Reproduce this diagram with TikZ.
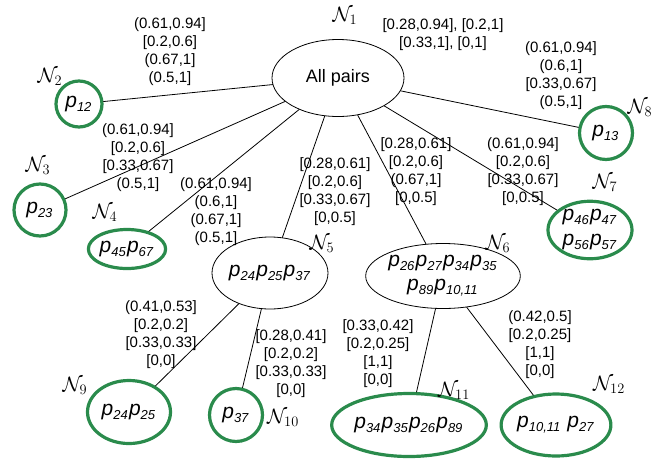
\documentclass[tikz,border=0pt]{standalone}
\usepackage{fontspec}
\setmainfont{Liberation Sans}
\usetikzlibrary{shapes.geometric}
\definecolor{treeGreen}{HTML}{2A8B4C}
\DeclareMathSizes{20}{20}{14}{10}
\newcommand{\pp}[1]{\textit{p}\raisebox{-4pt}{\fontsize{13}{13}\selectfont\itshape #1}\kern1.2pt\relax}

\begin{document}
\begin{tikzpicture}[x=1pt,y=-1pt,line cap=round,line join=round]
\useasboundingbox (0,0) rectangle (667,464);
\tikzset{inner/.style={draw=black,line width=0.8pt,ellipse,inner sep=0pt,align=center,font=\fontsize{21}{24}\selectfont},
  leaf/.style={draw=treeGreen,line width=3.2pt,ellipse,inner sep=0pt,align=center,font=\fontsize{21}{25}\selectfont},
  ivl/.style={font=\fontsize{15}{18}\selectfont,align=center,inner sep=0pt},
  nlab/.style={font=\fontsize{20}{20}\selectfont,inner sep=0pt},
  edge/.style={draw=black,line width=0.8pt}}
% nodes of the tree
\node[inner,minimum width=132pt,minimum height=77pt,font=\fontsize{18}{18}\selectfont] (n1) at (338,78) {All pairs};
\node[leaf,minimum width=46pt,minimum height=46pt] (n2) at (79,104) {\pp{12}};
\node[leaf,minimum width=52pt,minimum height=52pt] (n3) at (40,210) {\pp{23}};
\node[leaf,minimum width=76pt,minimum height=39pt] (n4) at (127,249) {\pp{45}\pp{67}};
\node[inner,minimum width=110pt,minimum height=72pt] (n5) at (270,273) {\pp{24}\pp{25}\pp{37}};
\node[inner,minimum width=137pt,minimum height=65pt] (n6) at (443,276) {\pp{26}\pp{27}\pp{34}\pp{35}\\\pp{89}\pp{10,11}};
\node[leaf,minimum width=84pt,minimum height=55pt] (n7) at (590,230) {\pp{46}\pp{47}\\\pp{56}\pp{57}};
\node[leaf,minimum width=53pt,minimum height=53pt] (n8) at (606,133) {\pp{13}};
\node[leaf,minimum width=83pt,minimum height=63pt] (n9) at (129,412) {\pp{24}\pp{25}};
\node[leaf,minimum width=53pt,minimum height=53pt] (n10) at (236,415) {\pp{37}};
\node[leaf,minimum width=133pt,minimum height=63pt] (n11) at (409,425) {\pp{34}\pp{35}\pp{26}\pp{89}};
\node[leaf,minimum width=84pt,minimum height=62pt] (n12) at (556,425) {\pp{10,11} \pp{27}};
% node names
\node[nlab] (l1) at (345,16) {$\mathcal{N}_1$};
\node[nlab] (l2) at (50,77) {$\mathcal{N}_2$};
\node[nlab] (l3) at (38,166) {$\mathcal{N}_3$};
\node[nlab] (l4) at (105,213) {$\mathcal{N}_4$};
\node[nlab] (l5) at (322,244) {$\mathcal{N}_5$};
\node[nlab] (l6) at (498,244) {$\mathcal{N}_6$};
\node[nlab] (l7) at (605,183) {$\mathcal{N}_7$};
\node[nlab] (l8) at (640,108) {$\mathcal{N}_8$};
\node[nlab] (l9) at (75,386) {$\mathcal{N}_9$};
\node[nlab] (l10) at (283,418) {$\mathcal{N}_{10}$};
\node[nlab] (l11) at (454,391) {$\mathcal{N}_{11}$};
\node[nlab] (l12) at (609,385) {$\mathcal{N}_{12}$};
% connectors
\foreach \a/\b in {n1/n2,n1/n3,n1/n4,n1/n5,n1/n6,n1/n7,n1/n8,n5/n9,n5/n10,n6/n11,n6/n12}
  \draw[edge] (\a) -- (\b);
% intervals
\node[ivl] (i1) at (443,35) {[0.28,0.94], [0.2,1]\\{}[0.33,1], [0,1]};
\node[ivl] (i2) at (170,52) {(0.61,0.94]\\{}[0.2,0.6]\\(0.67,1]\\(0.5,1]};
\node[ivl] (i3) at (138,158) {(0.61,0.94]\\{}[0.2,0.6]\\{}[0.33,0.67]\\(0.5,1]};
\node[ivl] (i4) at (216,212) {(0.61,0.94]\\(0.6,1]\\(0.67,1]\\(0.5,1]};
\node[ivl] (i5) at (335,192) {[0.28,0.61]\\{}[0.2,0.6]\\{}[0.33,0.67]\\{}[0,0.5]};
\node[ivl] (i6) at (416,172) {[0.28,0.61]\\{}[0.2,0.6]\\(0.67,1]\\{}[0,0.5]};
\node[ivl] (i7) at (523,172) {(0.61,0.94]\\{}[0.2,0.6]\\{}[0.33,0.67]\\{}[0,0.5]};
\node[ivl] (i8) at (561,76) {(0.61,0.94]\\(0.6,1]\\{}[0.33,0.67]\\(0.5,1]};
\node[ivl] (i9) at (161,335) {(0.41,0.53]\\{}[0.2,0.2]\\{}[0.33,0.33]\\{}[0,0]};
\node[ivl] (i10) at (291,364) {[0.28,0.41]\\{}[0.2,0.2]\\{}[0.33,0.33]\\{}[0,0]};
\node[ivl] (i11) at (378,354) {[0.33,0.42]\\{}[0.2,0.25]\\{}[1,1]\\{}[0,0]};
\node[ivl] (i12) at (540,345) {(0.42,0.5]\\{}[0.2,0.25]\\{}[1,1]\\{}[0,0]};
\end{tikzpicture}
\end{document}
